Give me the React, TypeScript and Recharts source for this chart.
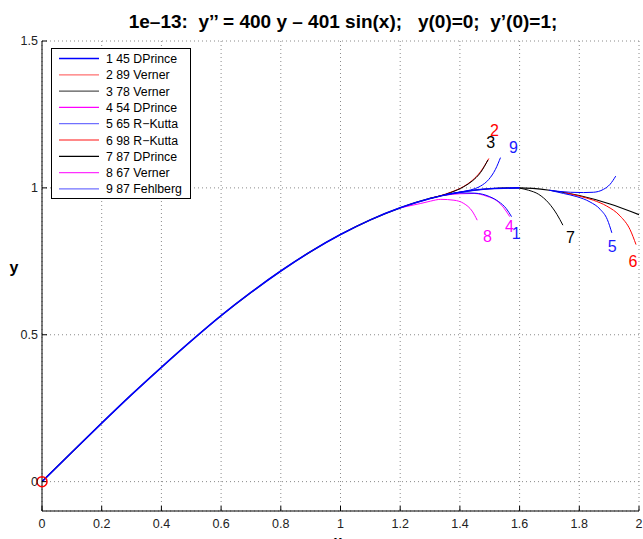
import React from "react";
import {
  LineChart,
  Line,
  XAxis,
  YAxis,
  CartesianGrid,
  Legend,
  ReferenceDot,
  Label,
} from "recharts";

// axis ticks
const xTicks = [0, 0.2, 0.4, 0.6, 0.8, 1, 1.2, 1.4, 1.6, 1.8, 2];
const yTicks = [0, 0.5, 1, 1.5];

// exact solution (black), read every 0.1
const exactX = [0, 0.1, 0.2, 0.3, 0.4, 0.5, 0.6, 0.7, 0.8, 0.9, 1, 1.1, 1.2, 1.3, 1.4, 1.5, 1.6, 1.7, 1.8, 1.9, 2];
const exactY = [0, 0.1, 0.199, 0.296, 0.389, 0.479, 0.565, 0.644, 0.717, 0.783, 0.841, 0.891, 0.932, 0.964, 0.985, 0.997, 1.0, 0.992, 0.974, 0.946, 0.909];

// shared numerical trunk (blue) before the runs split
const trunkX = [0, 0.1, 0.2, 0.3, 0.4, 0.5, 0.6, 0.7, 0.8, 0.9, 1, 1.1, 1.2, 1.3, 1.4, 1.5, 1.6];
const trunkY = [0, 0.1, 0.199, 0.296, 0.389, 0.479, 0.565, 0.644, 0.717, 0.783, 0.841, 0.891, 0.932, 0.964, 0.985, 0.997, 1.0];

// diverging tails of each run
const run1X = [1.35, 1.4, 1.45, 1.5, 1.53, 1.555, 1.573];
const run1Y = [0.976, 0.983, 0.982, 0.97, 0.953, 0.93, 0.902];
const run2X = [1.3, 1.369, 1.413, 1.441, 1.469, 1.497];
const run2Y = [0.964, 0.985, 1.005, 1.025, 1.055, 1.1];
const run3X = [1.3, 1.369, 1.413, 1.441, 1.469, 1.494];
const run3Y = [0.964, 0.984, 1.004, 1.023, 1.052, 1.095];
const run4X = [1.35, 1.4, 1.447, 1.491, 1.525, 1.547, 1.567];
const run4Y = [0.975, 0.98, 0.981, 0.971, 0.955, 0.932, 0.902];
const run5X = [1.7, 1.747, 1.792, 1.836, 1.87, 1.894, 1.909];
const run5Y = [0.992, 0.981, 0.97, 0.952, 0.927, 0.892, 0.847];
const run6X = [1.75, 1.8, 1.847, 1.892, 1.937, 1.97, 1.99];
const run6Y = [0.984, 0.972, 0.958, 0.938, 0.904, 0.858, 0.807];
const run7X = [1.6, 1.63, 1.664, 1.697, 1.725, 1.745];
const run7Y = [0.999, 0.992, 0.978, 0.949, 0.91, 0.873];
const run8X = [1.2, 1.269, 1.302, 1.336, 1.38, 1.413, 1.441, 1.458];
const run8Y = [0.932, 0.947, 0.955, 0.961, 0.958, 0.947, 0.921, 0.89];
const run9X = [1.35, 1.402, 1.436, 1.469, 1.497, 1.519, 1.536];
const run9Y = [0.977, 0.986, 0.993, 1.006, 1.029, 1.063, 1.103];
const runExtraX = [1.7, 1.77, 1.814, 1.847, 1.881, 1.903, 1.922];
const runExtraY = [0.992, 0.985, 0.984, 0.985, 0.995, 1.012, 1.04];

// legend
const legendNames = [
  "1 45 DPrince",
  "2 89 Verner",
  "3 78 Verner",
  "4 54 DPrince",
  "5 65 R\u2212Kutta",
  "6 98 R\u2212Kutta",
  "7 87 DPrince",
  "8 67 Verner",
  "9 87 Fehlberg",
];
const legendColors = ["#0000ff", "#ff7070", "#555555", "#ff00ff", "#7070ff", "#ff6060", "#000000", "#ff30ff", "#7070ff"];

// run labels near the tail ends
const labelText = ["1", "2", "3", "4", "5", "6", "7", "8", "9"];
const labelX = [1.589, 1.516, 1.503, 1.566, 1.91, 1.98, 1.77, 1.492, 1.579];
const labelY = [0.845, 1.196, 1.155, 0.869, 0.8, 0.749, 0.831, 0.834, 1.138];
const labelColors = ["#1a1aff", "#ff0000", "#000000", "#ff00ff", "#1a1aff", "#ff0000", "#000000", "#ff00ff", "#1a1aff"];

const pts = (xs: number[], ys: number[]) => xs.map((x, i) => ({ x, y: ys[i] }));

const FONT = "'Liberation Sans', Arial, Helvetica, sans-serif";

const runs = [
  { data: pts(run8X, run8Y), color: "#ff00ff" },
  { data: pts(run2X, run2Y), color: "#ff0000" },
  { data: pts(run3X, run3Y), color: "#000000" },
  { data: pts(run9X, run9Y), color: "#0000ff" },
  { data: pts(run4X, run4Y), color: "#ff00ff" },
  { data: pts(run1X, run1Y), color: "#0000ff" },
  { data: pts(run7X, run7Y), color: "#000000" },
  { data: pts(run6X, run6Y), color: "#ff0000" },
  { data: pts(run5X, run5Y), color: "#0000ff" },
  { data: pts(runExtraX, runExtraY), color: "#0000ff" },
];

function LegendBox() {
  return (
    <div
      style={{
        position: "relative",
        width: 140,
        height: 151,
        border: "1px solid #000",
        background: "#fff",
        fontFamily: FONT,
        fontSize: 12.3,
        boxSizing: "border-box",
      }}
    >
      <svg width={50} height={151} style={{ position: "absolute", left: 0, top: 0 }}>
        {legendNames.map((n, i) => (
          <line
            key={n}
            x1={7}
            x2={47}
            y1={9.5 + i * 16.3}
            y2={9.5 + i * 16.3}
            stroke={legendColors[i]}
            strokeWidth={1.3}
          />
        ))}
      </svg>
      {legendNames.map((n, i) => (
        <div
          key={n}
          style={{
            position: "absolute",
            left: 54,
            top: 2 + i * 16.3,
            lineHeight: "16px",
            color: "#000",
            whiteSpace: "pre",
          }}
        >
          {n}
        </div>
      ))}
    </div>
  );
}

export default function App() {
  return (
    <div
      style={{
        position: "absolute",
        left: 0,
        top: 0,
        width: 643,
        height: 539,
        background: "#fff",
        overflow: "hidden",
        fontFamily: FONT,
      }}
    >
      <div
        style={{
          position: "absolute",
          left: 0,
          width: 686,
          top: 11,
          textAlign: "center",
          fontWeight: "bold",
          fontSize: 19,
          color: "#000",
          whiteSpace: "pre",
        }}
      >
        {"1e\u201313:  y\u2019\u2019 = 400 y \u2013 401 sin(x);   y(0)=0;  y\u2019(0)=1;"}
      </div>
      <LineChart
        width={643}
        height={539}
        margin={{ top: 41, right: 4, bottom: 0, left: 0 }}
        style={{ fontFamily: FONT }}
      >
        <CartesianGrid stroke="#8a8a8a" strokeDasharray="1 3" />
        <XAxis
          xAxisId={0}
          dataKey="x"
          type="number"
          domain={[0, 2]}
          ticks={xTicks}
          height={28}
          tickSize={-5}
          tickMargin={13}
          tick={{ fill: "#222", fontSize: 12.5 }}
          stroke="#000"
          allowDataOverflow
        >
          <Label
            content={() => (
              <text x={338} y={546} textAnchor="middle" fontSize={15} fontWeight="bold" fill="#000">
                x
              </text>
            )}
          />
        </XAxis>
        <XAxis
          xAxisId="top"
          orientation="top"
          type="number"
          domain={[0, 2]}
          ticks={xTicks}
          height={0}
          tickSize={-5}
          tick={false}
          stroke="#000"
        />
        <YAxis
          yAxisId={0}
          type="number"
          domain={[-0.1, 1.5]}
          ticks={yTicks}
          width={42}
          tickSize={-5}
          tickMargin={9}
          tick={{ fill: "#222", fontSize: 12.5 }}
          stroke="#000"
          allowDataOverflow
        >
          <Label
            content={() => (
              <text x={14} y={273} textAnchor="middle" fontSize={16} fontWeight="bold" fill="#000">
                y
              </text>
            )}
          />
        </YAxis>
        <YAxis
          yAxisId="right"
          orientation="right"
          type="number"
          domain={[-0.1, 1.5]}
          ticks={yTicks}
          width={0}
          tickSize={-5}
          tick={false}
          stroke="#000"
        />
        <Line
          data={pts(exactX, exactY)}
          dataKey="y"
          type="monotone"
          stroke="#000"
          strokeWidth={1.2}
          dot={false}
          isAnimationActive={false}
        />
        {runs.map((r, i) => (
          <Line
            key={i}
            data={r.data}
            dataKey="y"
            type="monotone"
            stroke={r.color}
            strokeWidth={1}
            dot={false}
            isAnimationActive={false}
          />
        ))}
        <Line
          data={pts(trunkX, trunkY)}
          dataKey="y"
          type="monotone"
          stroke="#0000ff"
          strokeWidth={1.6}
          dot={false}
          isAnimationActive={false}
        />
        <ReferenceDot x={0} y={0} r={5} fill="none" stroke="#ff0000" strokeWidth={1.5} ifOverflow="visible" />
        {labelText.map((t, i) => (
          <ReferenceDot
            key={t}
            x={labelX[i]}
            y={labelY[i]}
            r={0}
            ifOverflow="visible"
            shape={(p: any) => (
              <text
                x={p.cx}
                y={p.cy}
                dy="0.35em"
                textAnchor="middle"
                fontSize={16}
                fill={labelColors[i]}
              >
                {t}
              </text>
            )}
          />
        ))}
        <Legend
          layout="vertical"
          align="center"
          verticalAlign="middle"
          content={() => <LegendBox />}
          wrapperStyle={{ left: 51, top: 48, width: 140, height: 151 }}
        />
      </LineChart>
    </div>
  );
}
